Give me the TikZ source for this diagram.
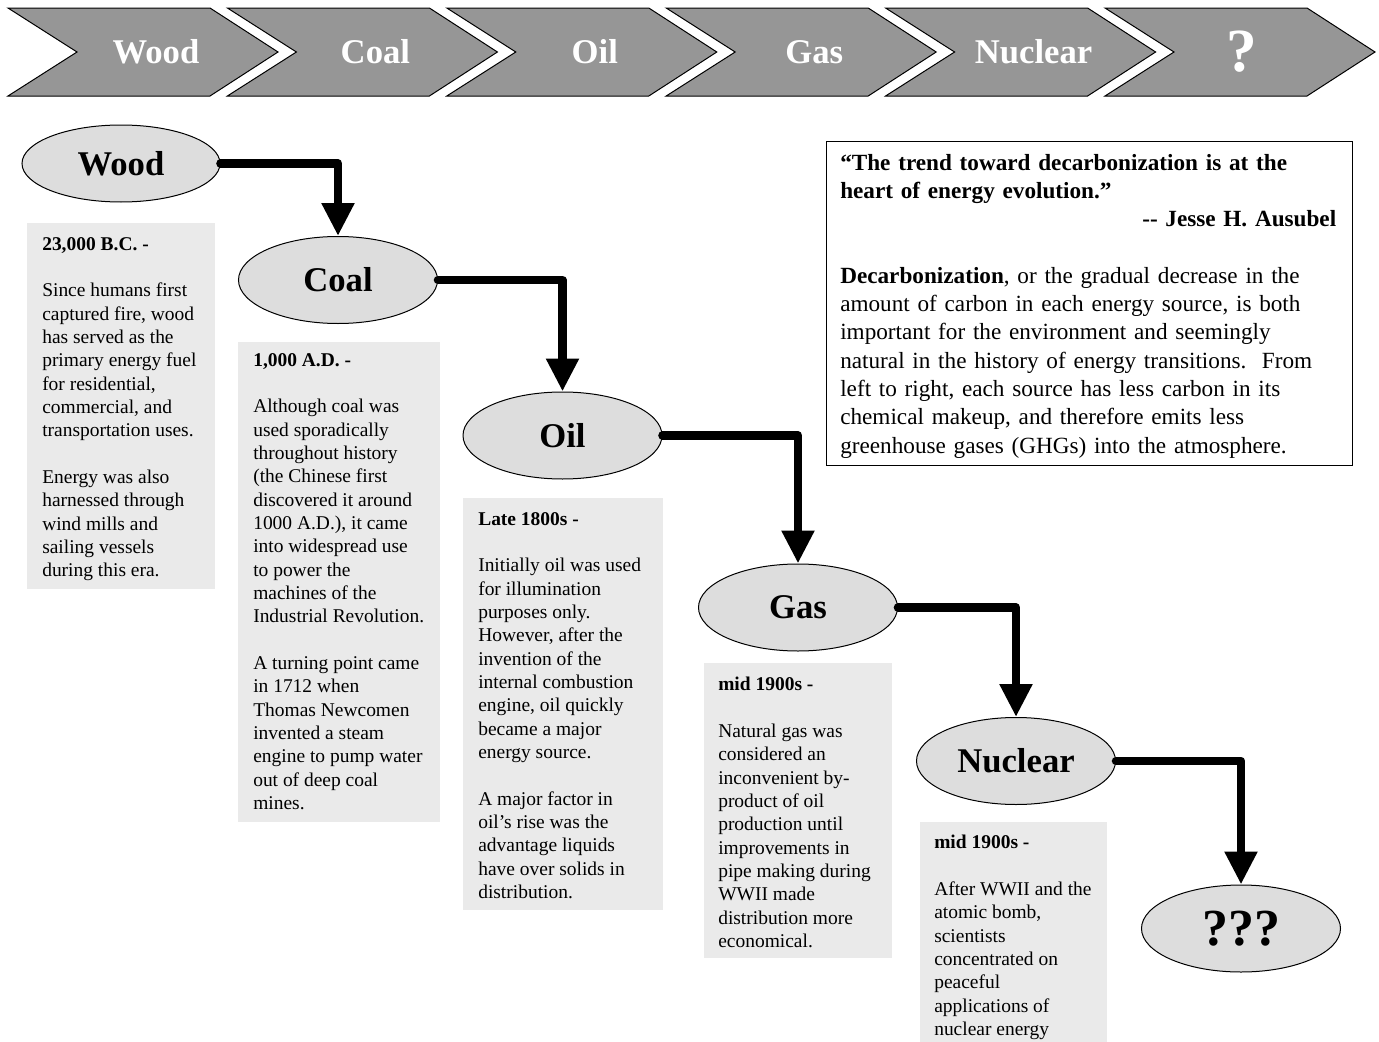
\documentclass[tikz,border=0pt]{standalone}
\usepackage{fontspec}
\setmainfont{Liberation Serif}
\usetikzlibrary{shapes.geometric,arrows.meta}
\definecolor{chev}{HTML}{969696}
\definecolor{ellg}{HTML}{DDDDDD}
\definecolor{boxg}{HTML}{EAEAEA}
\begin{document}
\begin{tikzpicture}[x=0.75pt,y=-0.75pt,
  chevron/.style={fill=chev,draw=black,line width=0.75pt,line join=miter},
  chevtext/.style={text=white,inner sep=0pt,font=\fontsize{26}{30}\selectfont\bfseries},
  era/.style={ellipse,draw=black,fill=ellg,line width=0.75pt,minimum width=149.25pt,minimum height=65.25pt,inner sep=0pt,font=\fontsize{26}{30}\selectfont\bfseries},
  infobox/.style={fill=boxg,inner sep=0pt,anchor=north west},
  infotext/.style={anchor=north west,inner sep=0pt,align=left,font=\fontsize{14.6}{17.5}\selectfont},
  link/.style={line width=6.4pt,line join=round,line cap=round,-{Triangle[width=23.25pt,length=24.75pt]}}
]
\useasboundingbox (0,0) rectangle (1379,1042);
\fill[white] (0,0) rectangle (1379,1042);

% chevrons
\foreach \i/\lab in {0/Wood,1/Coal,2/Oil,3/Gas,4/Nuclear}{
  \pgfmathsetmacro{\L}{8+219.4*\i}
  \draw[chevron] (\L,8) -- (\L+202,8) -- (\L+270,52) -- (\L+202,96) -- (\L,96) -- (\L+69,52) -- cycle;
  \node[chevtext] (chev\i) at (\L+148,52) {\lab};
}
\draw[chevron] (1105,8) -- (1307,8) -- (1375,52) -- (1307,96) -- (1105,96) -- (1174,52) -- cycle;
\node[chevtext,font=\fontsize{46}{50}\selectfont\bfseries] (chev5) at (1242,52) {?};

% info boxes
\node[infobox,minimum width=141pt,minimum height=274.5pt] (b1) at (27,223) {};
\node[infobox,minimum width=151.5pt,minimum height=360pt] (b2) at (238,342) {};
\node[infobox,minimum width=150pt,minimum height=309pt] (b3) at (463,498) {};
\node[infobox,minimum width=141pt,minimum height=221.25pt] (b4) at (704,663) {};
\node[infobox,minimum width=140.25pt,minimum height=165pt] (b5) at (920,822) {};

\node[infotext] (t1) at (42,237) {\textbf{23,000 B.C. -}\\[17.5pt]
Since humans first\\
captured fire, wood\\
has served as the\\
primary energy fuel\\
for residential,\\
commercial, and\\
transportation uses.\\[17.5pt]
Energy was also\\
harnessed through\\
wind mills and\\
sailing vessels\\
during this era.};

\node[infotext] (t2) at (253,353) {\textbf{1,000 A.D. -}\\[17.5pt]
Although coal was\\
used sporadically\\
throughout history\\
(the Chinese first\\
discovered it around\\
1000 A.D.), it came\\
into widespread use\\
to power the\\
machines of the\\
Industrial Revolution.\\[17.5pt]
A turning point came\\
in 1712 when\\
Thomas Newcomen\\
invented a steam\\
engine to pump water\\
out of deep coal\\
mines.};

\node[infotext] (t3) at (478,512) {\textbf{Late 1800s -}\\[17.5pt]
Initially oil was used\\
for illumination\\
purposes only.\\
However, after the\\
invention of the\\
internal combustion\\
engine, oil quickly\\
became a major\\
energy source.\\[17.5pt]
A major factor in\\
oil’s rise was the\\
advantage liquids\\
have over solids in\\
distribution.};

\node[infotext] (t4) at (718,677) {\textbf{mid 1900s -}\\[17.5pt]
Natural gas was\\
considered an\\
inconvenient by-\\
product of oil\\
production until\\
improvements in\\
pipe making during\\
WWII made\\
distribution more\\
economical.};

\node[infotext] (t5) at (934,835) {\textbf{mid 1900s -}\\[17.5pt]
After WWII and the\\
atomic bomb,\\
scientists\\
concentrated on\\
peaceful\\
applications of\\
nuclear energy};

% quote box
\node[draw=black,line width=1pt,fill=white,inner sep=0pt,anchor=north west,minimum width=394.5pt,minimum height=243pt] (qbox) at (826,141) {};
\node[anchor=north west,inner sep=0pt,text width=372pt,align=left,font=\fontsize{17.4}{21.2}\selectfont] (qtext) at (840,154) {\textbf{“The trend toward decarbonization is at the}\\
\textbf{heart of energy evolution.”}\\
\mbox{}\hfill\textbf{-{}- Jesse H. Ausubel}\\[21.2pt]
\textbf{Decarbonization}, or the gradual decrease in the\\
amount of carbon in each energy source, is both\\
important for the environment and seemingly\\
natural in the history of energy transitions.\ \ From\\
left to right, each source has less carbon in its\\
chemical makeup, and therefore emits less\\
greenhouse gases (GHGs) into the atmosphere.};

% ellipses
\node[era,minimum width=148.5pt,minimum height=57.75pt] (wood) at (121,163.5) {Wood};
\node[era] (coal) at (338,280) {Coal};
\node[era] (oil) at (562.5,435.5) {Oil};
\node[era] (gas) at (798,607.5) {Gas};
\node[era] (nuclear) at (1016,761) {Nuclear};
\node[era,font=\fontsize{39}{44}\selectfont\bfseries] (future) at (1241,928.5) {???};

% connectors
\draw[link] (wood.east) -| (coal.north);
\draw[link] (coal.east) -| (oil.north);
\draw[link] (oil.east) -| (gas.north);
\draw[link] (gas.east) -| (nuclear.north);
\draw[link] (nuclear.east) -| (future.north);
\end{tikzpicture}
\end{document}
